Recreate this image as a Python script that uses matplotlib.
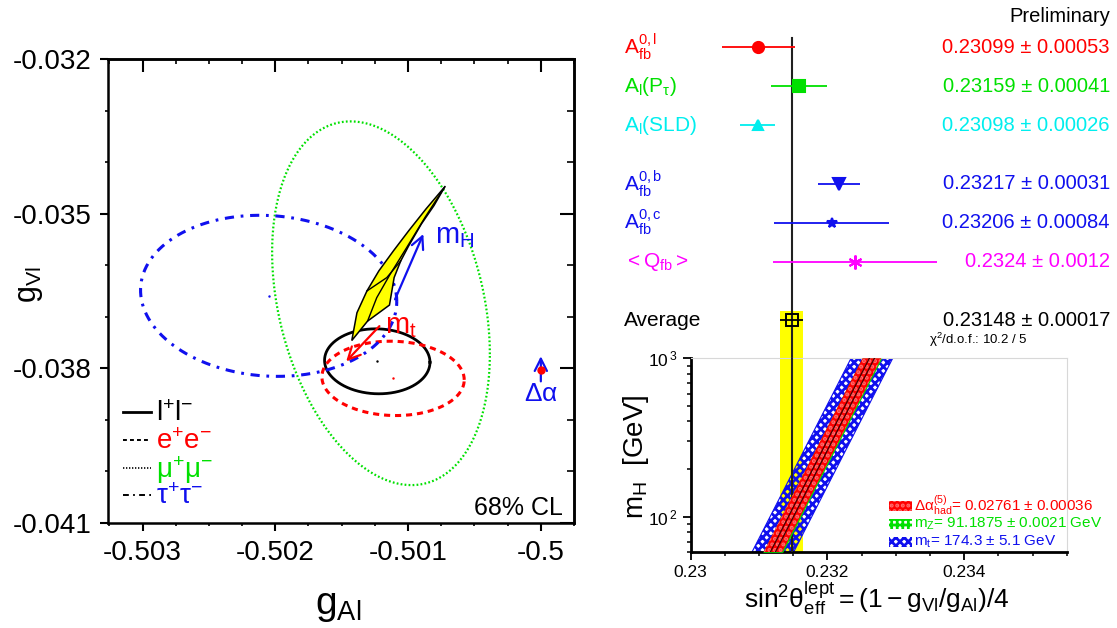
import numpy as np
import matplotlib
matplotlib.use("Agg")
import matplotlib.pyplot as plt
from matplotlib.ticker import MultipleLocator, FixedLocator, NullFormatter
from matplotlib.patches import Rectangle
from matplotlib.transforms import blended_transform_factory

plt.rcParams['font.family'] = ['Liberation Sans', 'DejaVu Sans']
plt.rcParams['mathtext.fontset'] = 'custom'
plt.rcParams['mathtext.rm'] = 'Liberation Sans'
plt.rcParams['mathtext.it'] = 'Liberation Sans:italic'
plt.rcParams['mathtext.bf'] = 'Liberation Sans:bold'
plt.rcParams['axes.unicode_minus'] = False
plt.rcParams['hatch.linewidth'] = 2.0

RED = '#ff0000'
GREEN = '#00e000'
CYAN = '#00eeee'
BLUE = '#1010ee'
MAGENTA = '#ff00ff'
YELLOW = '#ffff00'

# ---- left panel: 68% CL contours in the (gAl, gVl) plane
contour_labels = [r'$\mathregular{l^{+}l^{-}}$', r'$\mathregular{e^{+}e^{-}}$',
                  r'$\mathregular{\mu^{+}\mu^{-}}$', r'$\mathregular{\tau^{+}\tau^{-}}$']
contour_gA = [-0.501232, -0.501113, -0.501204, -0.502050]
contour_gV = [-0.037864, -0.038195, -0.036738, -0.036594]
contour_sA = [0.000397, 0.000536, 0.000820, 0.000965]
contour_sV = [0.000630, 0.000721, 0.003527, 0.001562]
contour_rho = [-0.03, -0.04, -0.28, -0.07]

# SM prediction (yellow region)
sm_outline_gA = [-0.501424, -0.501385, -0.501310, -0.501220, -0.501110, -0.500995,
                 -0.500865, -0.500722, -0.500805, -0.500900, -0.500995, -0.501055,
                 -0.501105, -0.501140, -0.501305, -0.501424]
sm_outline_gV = [-0.037461, -0.036922, -0.036500, -0.036110, -0.035721, -0.035331,
                 -0.034909, -0.034474, -0.034844, -0.035201, -0.035623, -0.035916,
                 -0.036240, -0.036773, -0.037084, -0.037461]
sm_inner1_gA = [-0.501305, -0.501236, -0.501135, -0.501010, -0.500872, -0.500722]
sm_inner1_gV = [-0.037084, -0.036630, -0.036175, -0.035656, -0.035071, -0.034474]
sm_inner2_gA = [-0.501310, -0.501160, -0.501055]
sm_inner2_gV = [-0.036500, -0.036240, -0.035916]

mh_arrow = [(-0.501098, -0.036662), (-0.500885, -0.035396)]
mt_arrow = [(-0.501216, -0.037182), (-0.501466, -0.037864)]
dalpha_arrow = [(-0.5, -0.038253), (-0.5, -0.037766)]
dalpha_point = (-0.5, -0.038025)

# ---- right top: sin2theta measurements
meas_labels = [r'$\mathregular{A^{0,l}_{fb}}$', r'$\mathregular{A_l(P_{\tau})}$',
               r'$\mathregular{A_l(SLD)}$', r'$\mathregular{A^{0,b}_{fb}}$',
               r'$\mathregular{A^{0,c}_{fb}}$', r'$\mathregular{<Q_{fb}>}$']
meas_values = [0.23099, 0.23159, 0.23098, 0.23217, 0.23206, 0.2324]
meas_errors = [0.00053, 0.00041, 0.00026, 0.00031, 0.00084, 0.0012]
meas_text = ['0.23099 ± 0.00053', '0.23159 ± 0.00041', '0.23098 ± 0.00026',
             '0.23217 ± 0.00031', '0.23206 ± 0.00084', '0.2324 ± 0.0012']
meas_rows = [0, 1, 2, 3.5, 4.5, 5.5]
meas_colors = [RED, GREEN, CYAN, BLUE, BLUE, MAGENTA]
meas_markers = ['o', 's', '^', 'v', '*', (6, 2, 0)]
meas_sizes = [8, 8, 7, 8, 7, 10]
avg_value = 0.23148
avg_error = 0.00017
avg_row = 7

# ---- right bottom: SM bands vs mH
band_mh = [60, 1000]
band_center = [0.23120, 0.23265]
band_mt_halfwidth = 0.000305
band_mz_halfwidth = 0.000145
band_da_halfwidth = 0.000136
band_inner_halfwidth = 0.000037

fig = plt.figure(figsize=(11.17, 6.28), dpi=100)

# ================= left panel =================
ax = fig.add_axes([0.0967, 0.1672, 0.4172, 0.7389])
ax.set_xlim(-0.50326, -0.49975)
ax.set_ylim(-0.041, -0.032)

t = np.linspace(0, 2 * np.pi, 400)
styles = [dict(color='black', lw=2.0, ls='-'),
          dict(color=RED, lw=2.2, ls=(0, (2.0, 1.6))),
          dict(color=GREEN, lw=1.6, ls=(0, (0.8, 1.0))),
          dict(color=BLUE, lw=2.2, ls=(0, (3.0, 2.2, 0.9, 2.2)))]
for i in range(4):
    xs = contour_gA[i] + contour_sA[i] * np.cos(t)
    ys = contour_gV[i] + contour_sV[i] * (contour_rho[i] * np.cos(t)
                                          + np.sqrt(1 - contour_rho[i] ** 2) * np.sin(t))
    ax.plot(xs, ys, zorder=3, **styles[i])
    ax.plot(contour_gA[i], contour_gV[i], '.', color=styles[i]['color'], ms=1.5)

ax.fill(sm_outline_gA, sm_outline_gV, facecolor=YELLOW, edgecolor='black', lw=1.1, zorder=4)
ax.plot(sm_inner1_gA, sm_inner1_gV, color='black', lw=1.0, zorder=5)
ax.plot(sm_inner2_gA, sm_inner2_gV, color='black', lw=1.0, zorder=5)

for arr, col in [(mh_arrow, BLUE), (mt_arrow, RED), (dalpha_arrow, BLUE)]:
    ax.annotate('', xy=arr[1], xytext=arr[0],
                arrowprops=dict(arrowstyle='->', color=col, lw=1.6, mutation_scale=22,
                                shrinkA=0, shrinkB=0), zorder=6)
ax.plot(*dalpha_point, 'o', color=RED, ms=5, zorder=7)
ax.text(-0.500797, -0.035429, r'$\mathregular{m_H}$', color=BLUE, fontsize=21,
        ha='left', va='center')
ax.text(-0.501173, -0.037182, r'$\mathregular{m_t}$', color=RED, fontsize=21,
        ha='left', va='center')
ax.text(-0.5, -0.0385, r'$\mathregular{\Delta\alpha}$', color=BLUE, fontsize=19,
        ha='center', va='center')

leg_y = [0.2399, 0.1789, 0.1192, 0.0603]
leg_colors = ['black', RED, GREEN, BLUE]
leg_ls = ['-', (0, (2.0, 1.6)), (0, (0.8, 1.0)), (0, (3.0, 2.2, 0.9, 2.2))]
leg_lw = [2.0, 1.4, 1.2, 1.4]
for i in range(4):
    ax.plot([0.032, 0.092], [leg_y[i], leg_y[i]], transform=ax.transAxes,
            color='black', ls=leg_ls[i], lw=leg_lw[i])
    ax.text(0.102, leg_y[i] - 0.005, contour_labels[i], transform=ax.transAxes,
            color=leg_colors[i], fontsize=20, ha='left', va='center')
ax.text(0.976, 0.017, '68% CL', transform=ax.transAxes, fontsize=18,
        ha='right', va='baseline')

ax.xaxis.set_major_locator(FixedLocator([-0.503, -0.502, -0.501, -0.5]))
ax.set_xticklabels(['-0.503', '-0.502', '-0.501', '-0.5'])
ax.xaxis.set_minor_locator(MultipleLocator(0.00025))
ax.yaxis.set_major_locator(FixedLocator([-0.041, -0.038, -0.035, -0.032]))
ax.set_yticklabels(['-0.041', '-0.038', '-0.035', '-0.032'])
ax.yaxis.set_minor_locator(MultipleLocator(0.001))
ax.tick_params(which='major', direction='out', length=6, width=1.5, labelsize=20, pad=6)
ax.tick_params(which='minor', direction='out', length=2.5, width=1.2)
for s in ax.spines.values():
    s.set_linewidth(1.8)

sec_x = ax.secondary_xaxis('top')
sec_x.xaxis.set_major_locator(FixedLocator([-0.503, -0.502, -0.501, -0.5]))
sec_x.xaxis.set_minor_locator(MultipleLocator(0.00025))
sec_x.xaxis.set_major_formatter(NullFormatter())
sec_x.tick_params(which='major', direction='in', length=9, width=1.5)
sec_x.tick_params(which='minor', direction='in', length=3.5, width=1.2)
sec_x.spines['top'].set_linewidth(1.8)
sec_y = ax.secondary_yaxis('right')
sec_y.yaxis.set_major_locator(FixedLocator([-0.041, -0.038, -0.035, -0.032]))
sec_y.yaxis.set_minor_locator(MultipleLocator(0.001))
sec_y.yaxis.set_major_formatter(NullFormatter())
sec_y.tick_params(which='major', direction='in', length=10, width=1.5)
sec_y.tick_params(which='minor', direction='in', length=5, width=1.2)
sec_y.spines['right'].set_linewidth(1.8)

fig.text(30 / 1117, 1 - 285 / 628, r'$\mathregular{g_{Vl}}$', fontsize=22,
         rotation=90, ha='center', va='center')
fig.text(338 / 1117, 1 - 606 / 628, r'$\mathregular{g_{Al}}$', fontsize=28,
         ha='center', va='center')

# ================= right top panel =================
xlo, xhi = 0.23, 0.2355
axt = fig.add_axes([0.61835, 0.42946, 0.33662, 0.57054])
axt.set_xlim(xlo, xhi)
axt.set_ylim(7.98, -1.205)
axt.axis('off')

axt.fill_betweenx([avg_row - 0.23, 7.98], avg_value - avg_error, avg_value + avg_error,
                  color=YELLOW, lw=0, zorder=1)
axt.plot([avg_value, avg_value], [-0.24, 7.98], color='#202020', lw=1.5, zorder=2)
for i in range(len(meas_values)):
    axt.errorbar(meas_values[i], meas_rows[i], xerr=meas_errors[i], fmt='none',
                 ecolor=meas_colors[i], elinewidth=1.3, capsize=0, zorder=3)
    axt.plot(meas_values[i], meas_rows[i], marker=meas_markers[i], color=meas_colors[i],
             ms=meas_sizes[i], mew=1.5, ls='none', zorder=4)
axt.errorbar(avg_value, avg_row, xerr=avg_error, fmt='s', mfc='none', mec='black',
             ms=8, mew=1.4, ecolor='black', elinewidth=1.3, capsize=0, zorder=4)

tr = blended_transform_factory(fig.transFigure, axt.transData)
for i in range(len(meas_values)):
    axt.text(624 / 1117, meas_rows[i], meas_labels[i], transform=tr, color=meas_colors[i],
             fontsize=15, ha='left', va='center')
    axt.text(1110 / 1117, meas_rows[i], meas_text[i], transform=tr, color=meas_colors[i],
             fontsize=14.5, ha='right', va='center')
axt.text(624 / 1117, avg_row, 'Average', transform=tr, fontsize=15, ha='left', va='center')
axt.text(1110 / 1117, avg_row, '0.23148 ± 0.00017', transform=tr, fontsize=14.5,
         ha='right', va='center')
axt.text(1110 / 1117, -0.79, 'Preliminary', transform=tr, fontsize=14.5,
         ha='right', va='center')
axt.text(1028 / 1117, 7.5, r'$\mathregular{\chi^2}$/d.o.f.: 10.2 / 5', transform=tr,
         fontsize=9.5, ha='right', va='center')

# ================= right bottom panel =================
axb = fig.add_axes([0.61835, 0.12054, 0.33662, 0.30892])
axb.set_xlim(xlo, xhi)
axb.set_yscale('log')
axb.set_ylim(60, 1000)

c = np.array(band_center)
axb.axvspan(avg_value - avg_error, avg_value + avg_error, color=YELLOW, lw=0, zorder=1)
axb.fill_betweenx(band_mh, c - band_mt_halfwidth, c + band_mt_halfwidth,
                  facecolor='none', edgecolor=BLUE, hatch='xxxx', lw=0.8, zorder=2)
axb.axvline(avg_value, color='#202020', lw=1.5, zorder=3)
axb.fill_betweenx(band_mh, c - band_mz_halfwidth, c + band_mz_halfwidth,
                  facecolor=GREEN, edgecolor=GREEN, lw=0, zorder=4)
axb.fill_betweenx(band_mh, c - band_da_halfwidth, c + band_da_halfwidth,
                  facecolor=RED, edgecolor='#ff7070', hatch='...', lw=0, zorder=5)
axb.plot(c - band_inner_halfwidth, band_mh, color='#400000', lw=0.9, zorder=6)
axb.plot(c + band_inner_halfwidth, band_mh, color='#400000', lw=0.9, zorder=6)

leg_band_y = [0.240, 0.146, 0.053]
leg_band_text = [r'$\mathregular{\Delta\alpha^{(5)}_{had}}$= 0.02761 ± 0.00036',
                 r'$\mathregular{m_Z}$= 91.1875 ± 0.0021 GeV',
                 r'$\mathregular{m_t}$= 174.3 ± 5.1 GeV']
leg_band_col = [RED, GREEN, BLUE]
leg_band_face = [RED, 'white', 'white']
leg_band_hatch = ['...', '+++', 'xxxx']
leg_band_edge = ['#ff7070', GREEN, BLUE]
for i in range(3):
    axb.add_patch(Rectangle((0.528, leg_band_y[i] - 0.026), 0.06, 0.052,
                            transform=axb.transAxes, facecolor=leg_band_face[i],
                            edgecolor=leg_band_edge[i], hatch=leg_band_hatch[i], lw=0,
                            zorder=7))
    axb.text(0.594, leg_band_y[i], leg_band_text[i], transform=axb.transAxes,
             color=leg_band_col[i], fontsize=11, ha='left', va='center', zorder=8)

axb.xaxis.set_major_locator(FixedLocator([0.23, 0.232, 0.234]))
axb.set_xticklabels(['0.23', '0.232', '0.234'])
axb.xaxis.set_minor_locator(MultipleLocator(0.0005))
axb.yaxis.set_major_locator(FixedLocator([100, 1000]))
axb.set_yticklabels([r'$\mathregular{10^{\,2}}$', r'$\mathregular{10^{\,3}}$'])
axb.yaxis.set_minor_locator(FixedLocator([60, 70, 80, 90, 200, 300, 400, 500,
                                          600, 700, 800, 900]))
axb.yaxis.set_minor_formatter(NullFormatter())
axb.tick_params(which='major', direction='out', length=6, width=1.3, labelsize=12.5)
axb.tick_params(which='minor', direction='out', length=3, width=1.1)
for side in ['left', 'bottom']:
    axb.spines[side].set_linewidth(2.0)
for side in ['top', 'right']:
    axb.spines[side].set_linewidth(0.8)
    axb.spines[side].set_color('#d8d8d8')

fig.text(636 / 1117, 1 - 457 / 628, r'$\mathregular{m_H}$  [GeV]', fontsize=20,
         rotation=90, ha='center', va='center')
fig.text(877 / 1117, 1 - 598 / 628,
         r'$\mathregular{sin^2\theta^{lept}_{eff} = (1 - g_{Vl}/g_{Al})/4}$',
         fontsize=19, ha='center', va='center')

fig.savefig('out.png', dpi=100)
